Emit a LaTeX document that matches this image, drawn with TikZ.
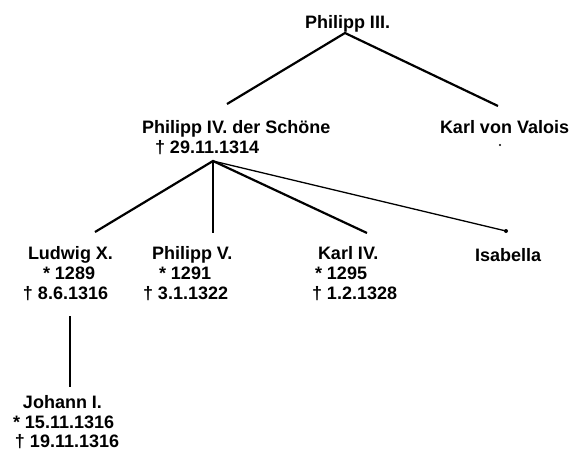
\documentclass[tikz,border=0pt]{standalone}
\usepackage{fontspec}
\setmainfont{Liberation Sans}
\begin{document}
\begin{tikzpicture}[x=1pt,y=-1pt,
  lbl/.style={anchor=base west,inner sep=0pt,outer sep=0pt,font=\fontsize{18}{20}\selectfont\bfseries},
  link/.style={line width=2.2pt},
  thinlink/.style={line width=1.3pt}]
\useasboundingbox[fill=white] (0,0) rectangle (571,450);
% names
\node[lbl] (p3) at (305,28.5) {Philipp III.};
\node[lbl] (p4) at (142,133.5) {Philipp IV. der Schöne};
\node[lbl] (p4d) at (155,153.5) {† 29.11.1314};
\node[lbl] (kv) at (440,133.5) {Karl von Valois};
\node[lbl] (l10) at (28,259.5) {Ludwig X.};
\node[lbl] (l10b) at (43,279.5) {* 1289};
\node[lbl] (l10d) at (23,299.5) {† 8.6.1316};
\node[lbl] (p5) at (152,259.5) {Philipp V.};
\node[lbl] (p5b) at (159,279.5) {* 1291};
\node[lbl] (p5d) at (143,299.5) {† 3.1.1322};
\node[lbl] (k4) at (318,259.5) {Karl IV.};
\node[lbl] (k4b) at (315,279.5) {* 1295};
\node[lbl] (k4d) at (312,299.5) {† 1.2.1328};
\node[lbl] (isa) at (475,261.5) {Isabella};
\node[lbl] (j1) at (23,408) {Johann I.};
\node[lbl] (j1b) at (13,428) {* 15.11.1316};
\node[lbl] (j1d) at (15,447.5) {† 19.11.1316};
% connector points
\coordinate (p3c) at (345,33);
\coordinate (p4top) at (227,104);
\coordinate (kvtop) at (498,106);
\coordinate (hub) at (213,161);
\coordinate (l10top) at (95,232);
\coordinate (p5top) at (213,233);
\coordinate (k4top) at (367,233);
\coordinate (isatop) at (506,231);
\coordinate (l10bot) at (70,316);
\coordinate (j1top) at (70,387);
\coordinate (kvdot) at (500,145);
% connectors
\draw[link,line join=miter] (p4top) -- (p3c) -- (kvtop);
\draw[link] (hub) -- (l10top);
\draw[link] (hub) -- (p5top);
\draw[link] (hub) -- (k4top);
\draw[thinlink] (hub) -- (isatop);
\fill (isatop) circle (2pt);
\fill (hub) circle (1.5pt);
\draw[link] (l10bot) -- (j1top);
\fill (kvdot) circle (1.2pt);
\end{tikzpicture}
\end{document}
